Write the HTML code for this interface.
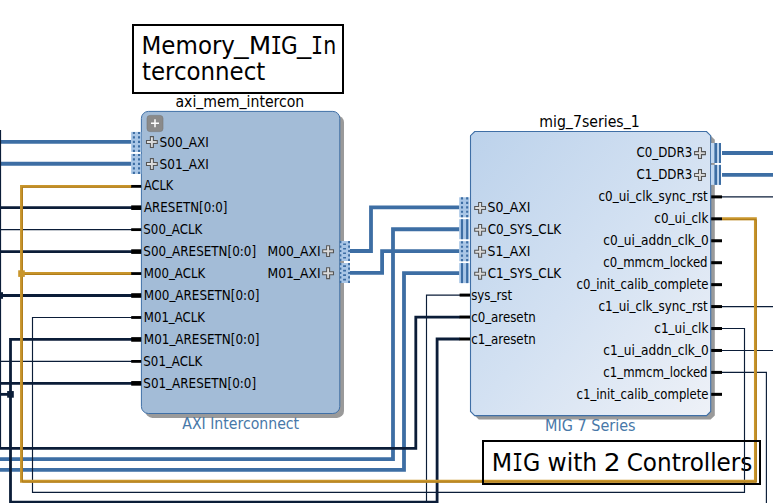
<!DOCTYPE html>
<html><head><meta charset="utf-8"><title>Block Design</title>
<style>
html,body{margin:0;padding:0;background:#fff;}
body{width:773px;height:503px;overflow:hidden;}
svg{display:block;}
.pin{font-family:"DejaVu Sans Condensed","DejaVu Sans","Liberation Sans",sans-serif;font-size:13.5px;fill:#000;}
.lbl{font-family:"DejaVu Sans Condensed","DejaVu Sans","Liberation Sans",sans-serif;font-size:15.2px;}
.ttl,.ttl2{font-family:"DejaVu Sans Condensed","DejaVu Sans","Liberation Sans",sans-serif;font-size:24.7px;fill:#000;}
.ttl2{font-size:25.5px;}
.mono{font-family:"DejaVu Sans Mono","Liberation Mono",monospace;}
</style></head><body>
<svg width="773" height="503" viewBox="0 0 773 503">
<defs>
<linearGradient id="mg" x1="0" y1="0" x2="1" y2="1">
<stop offset="0" stop-color="#bcd2eb"/><stop offset="0.5" stop-color="#d3e1f2"/><stop offset="1" stop-color="#eef1f7"/>
</linearGradient>
<linearGradient id="pg" x1="0" y1="0" x2="1" y2="1">
<stop offset="0" stop-color="#f2f2f2"/><stop offset="1" stop-color="#c4c4c4"/>
</linearGradient>
</defs>
<rect x="0" y="0" width="773" height="503" fill="#fff"/>

<rect x="133" y="25" width="210" height="68" fill="#fff" stroke="#000" stroke-width="2"/>
<text class="ttl"><tspan x="141.56" y="54.30" textLength="93.42" lengthAdjust="spacingAndGlyphs">Memory</tspan><tspan x="233.90" y="53.10" textLength="14.60" lengthAdjust="spacingAndGlyphs">_</tspan><tspan x="248.76" y="54.30" textLength="22.47" lengthAdjust="spacingAndGlyphs">M</tspan><tspan class="mono" x="270.43" y="54.30" textLength="11.45" lengthAdjust="spacingAndGlyphs">I</tspan><tspan x="281.10" y="54.30" textLength="16.65" lengthAdjust="spacingAndGlyphs">G</tspan><tspan x="297.00" y="53.10" textLength="14.20" lengthAdjust="spacingAndGlyphs">_</tspan><tspan class="mono" x="310.94" y="54.30" textLength="12.05" lengthAdjust="spacingAndGlyphs">I</tspan><tspan x="323.14" y="54.30" textLength="12.99" lengthAdjust="spacingAndGlyphs">n</tspan></text>
<text class="ttl" x="141.99" y="80.30" textLength="123.34" lengthAdjust="spacingAndGlyphs">terconnect</text>
<rect x="483" y="441" width="277" height="43" fill="#fff"/>
<text class="ttl2"><tspan x="491.69" y="470.60" textLength="20.41" lengthAdjust="spacingAndGlyphs">M</tspan><tspan class="mono" x="512.15" y="470.60" textLength="10.71" lengthAdjust="spacingAndGlyphs">I</tspan><tspan x="522.96" y="470.60" textLength="17.26" lengthAdjust="spacingAndGlyphs">G</tspan> <tspan x="547.52" y="470.60" textLength="49.66" lengthAdjust="spacingAndGlyphs">with</tspan> <tspan x="603.66" y="470.60" textLength="16.88" lengthAdjust="spacingAndGlyphs">2</tspan> <tspan x="626.71" y="470.60" textLength="125.70" lengthAdjust="spacingAndGlyphs">Controllers</tspan></text>
<path d="M0.00,141.80 L131.50,141.80" fill="none" stroke="#3d6ea4" stroke-width="3.8" stroke-linejoin="miter"/>
<path d="M0.00,163.76 L131.50,163.76" fill="none" stroke="#3d6ea4" stroke-width="3.8" stroke-linejoin="miter"/>
<path d="M350.00,251.00 L371.00,251.00 L371.00,207.30 L459.50,207.30" fill="none" stroke="#3d6ea4" stroke-width="3.8" stroke-linejoin="miter"/>
<path d="M350.00,272.96 L382.10,272.96 L382.10,251.20 L459.50,251.20" fill="none" stroke="#3d6ea4" stroke-width="3.8" stroke-linejoin="miter"/>
<path d="M459.50,229.25 L393.00,229.25 L393.00,459.05 L0.00,459.05" fill="none" stroke="#3d6ea4" stroke-width="3.8" stroke-linejoin="miter"/>
<path d="M459.50,273.15 L404.00,273.15 L404.00,469.80 L0.00,469.80" fill="none" stroke="#3d6ea4" stroke-width="3.8" stroke-linejoin="miter"/>
<path d="M722.00,153.00 L773.00,153.00" fill="none" stroke="#3d6ea4" stroke-width="3.8" stroke-linejoin="miter"/>
<path d="M722.00,174.94 L773.00,174.94" fill="none" stroke="#3d6ea4" stroke-width="3.8" stroke-linejoin="miter"/>
<path d="M0.00,207.68 L132.00,207.68" fill="none" stroke="#0b1d38" stroke-width="2.8" stroke-linejoin="miter"/>
<path d="M0.00,251.60 L132.00,251.60" fill="none" stroke="#0b1d38" stroke-width="2.8" stroke-linejoin="miter"/>
<path d="M0.00,295.52 L132.00,295.52" fill="none" stroke="#0b1d38" stroke-width="2.8" stroke-linejoin="miter"/>
<path d="M0.00,383.36 L132.00,383.36" fill="none" stroke="#0b1d38" stroke-width="2.8" stroke-linejoin="miter"/>
<path d="M132.00,339.44 L10.50,339.44 L10.50,502.20 L437.10,502.20 L437.10,339.00 L460.00,339.00" fill="none" stroke="#0b1d38" stroke-width="2.8" stroke-linejoin="miter"/>
<path d="M0.00,394.35 L10.50,394.35" fill="none" stroke="#0b1d38" stroke-width="2.8" stroke-linejoin="miter"/>
<rect x="7.15" y="391.05" width="6.65" height="6.65" fill="#0b1d38"/>
<rect x="-3.6" y="292.2" width="6.6" height="6.6" fill="#0b1d38"/>
<path d="M-0.30,130.00 L-0.30,448.45 L415.80,448.45 L415.80,317.05 L460.00,317.05" fill="none" stroke="#0b1d38" stroke-width="2.8" stroke-linejoin="miter"/>
<path d="M0.00,229.64 L132.00,229.64" fill="none" stroke="#0b1d38" stroke-width="1.15" stroke-linejoin="miter"/>
<path d="M0.00,361.40 L132.00,361.40" fill="none" stroke="#0b1d38" stroke-width="1.15" stroke-linejoin="miter"/>
<path d="M132.00,317.48 L32.50,317.48 L32.50,492.30 L744.50,492.30 L744.50,328.52 L722.00,328.52" fill="none" stroke="#0b1d38" stroke-width="1.15" stroke-linejoin="miter"/>
<path d="M460.00,295.10 L426.50,295.10 L426.50,503.00" fill="none" stroke="#0b1d38" stroke-width="1.15" stroke-linejoin="miter"/>
<path d="M722.00,196.88 L773.00,196.88" fill="none" stroke="#0b1d38" stroke-width="1.15" stroke-linejoin="miter"/>
<path d="M722.00,306.58 L773.00,306.58" fill="none" stroke="#0b1d38" stroke-width="1.15" stroke-linejoin="miter"/>
<path d="M722.00,350.46 L773.00,350.46" fill="none" stroke="#0b1d38" stroke-width="1.15" stroke-linejoin="miter"/>
<path d="M722.00,372.40 L766.40,372.40 L766.40,503.00" fill="none" stroke="#0b1d38" stroke-width="1.15" stroke-linejoin="miter"/>
<path d="M132.00,186.37 L21.50,186.37 L21.50,481.20 L755.40,481.20 L755.40,218.82 L722.00,218.82" fill="none" stroke="#c9962c" stroke-width="2.9" stroke-linejoin="miter"/>
<path d="M21.50,273.56 L132.00,273.56" fill="none" stroke="#c9962c" stroke-width="2.9" stroke-linejoin="miter"/>
<path d="M132.00,187.22 L22.35,187.22 L22.35,482.05 L756.25,482.05 L756.25,219.67 L722.00,219.67" fill="none" stroke="#ad7a1a" stroke-width="1.0" stroke-linejoin="miter"/>
<path d="M22.35,274.41 L132.00,274.41" fill="none" stroke="#ad7a1a" stroke-width="1.0" stroke-linejoin="miter"/>
<rect x="18.2" y="270.3" width="6.6" height="6.6" fill="#c9962c"/>
<rect x="483" y="441" width="277" height="43" fill="none" stroke="#000" stroke-width="2"/>
<rect x="145.4" y="115.4" width="198.6" height="302.5" rx="7" ry="7" fill="#9a9a9a"/>
<rect x="141.4" y="111.4" width="198.4" height="302.1" rx="7" ry="7" fill="#a3bcd7" stroke="#3f6fa6" stroke-width="1"/>
<rect x="147" y="115.4" width="16" height="16.2" rx="3" ry="3" fill="#8a8a8a" stroke="#777" stroke-width="0.6"/>
<path d="M155,119.3v8M151,123.3h8" stroke="#fff" stroke-width="1.5" fill="none"/>
<rect x="131.1" y="131.9" width="10.2" height="20" fill="#a9c6e6"/>
<path d="M133.90,131.9v20" stroke="#3d6ea4" stroke-width="2.1" stroke-dasharray="2.2 2.25" fill="none"/>
<path d="M139.05,131.9v20" stroke="#3d6ea4" stroke-width="2.1" stroke-dasharray="2.2 2.25" fill="none"/>
<rect x="131.1" y="153.9" width="10.2" height="20" fill="#a9c6e6"/>
<path d="M133.90,153.9v20" stroke="#3d6ea4" stroke-width="2.1" stroke-dasharray="2.2 2.25" fill="none"/>
<path d="M139.05,153.9v20" stroke="#3d6ea4" stroke-width="2.1" stroke-dasharray="2.2 2.25" fill="none"/>
<rect x="340.0" y="241.0" width="10" height="20" fill="#a9c6e6"/>
<path d="M340.60,241.0v20" stroke="#3d6ea4" stroke-width="1.6" stroke-dasharray="2.2 2.25" fill="none"/>
<path d="M349.05,241.0v20" stroke="#3d6ea4" stroke-width="1.9" stroke-dasharray="2.2 2.25" fill="none"/>
<path d="M344.55,243.40v18" stroke="#3d6ea4" stroke-width="2.9" stroke-dasharray="1.7 2.8" fill="none"/>
<rect x="340.0" y="263.0" width="10" height="20" fill="#a9c6e6"/>
<path d="M340.60,263.0v20" stroke="#3d6ea4" stroke-width="1.6" stroke-dasharray="2.2 2.25" fill="none"/>
<path d="M349.05,263.0v20" stroke="#3d6ea4" stroke-width="1.9" stroke-dasharray="2.2 2.25" fill="none"/>
<path d="M344.55,265.36v18" stroke="#3d6ea4" stroke-width="2.9" stroke-dasharray="1.7 2.8" fill="none"/>
<path transform="translate(151.9,142.0)" d="M-1.5,-5.4h3v3.9h3.9v3h-3.9v3.9h-3v-3.9h-3.9v-3h3.9z" fill="url(#pg)" stroke="#555" stroke-width="1.05" stroke-linejoin="miter"/>
<text class="pin" x="159.50" y="146.55" textLength="49.38" lengthAdjust="spacingAndGlyphs">S00<tspan dy="-0.9">_</tspan><tspan dy="0.9">AXI</tspan></text>
<path transform="translate(151.9,164.0)" d="M-1.5,-5.4h3v3.9h3.9v3h-3.9v3.9h-3v-3.9h-3.9v-3h3.9z" fill="url(#pg)" stroke="#555" stroke-width="1.05" stroke-linejoin="miter"/>
<text class="pin" x="159.50" y="168.51" textLength="49.38" lengthAdjust="spacingAndGlyphs">S01<tspan dy="-0.9">_</tspan><tspan dy="0.9">AXI</tspan></text>
<rect x="131.2" y="184.97" width="10" height="2.8" fill="#000"/>
<text class="pin" x="144.01" y="190.47" textLength="29.14" lengthAdjust="spacingAndGlyphs">ACLK</text>
<rect x="131.2" y="205.38" width="10" height="4.6" fill="#000"/>
<text class="pin" x="144.01" y="212.43" textLength="83.41" lengthAdjust="spacingAndGlyphs">ARESETN[0:0]</text>
<rect x="131.2" y="228.24" width="10" height="2.8" fill="#000"/>
<text class="pin" x="143.33" y="234.39" textLength="59.02" lengthAdjust="spacingAndGlyphs">S00<tspan dy="-0.9">_</tspan><tspan dy="0.9">ACLK</tspan></text>
<rect x="131.2" y="249.30" width="10" height="4.6" fill="#000"/>
<text class="pin" x="143.31" y="256.35" textLength="112.81" lengthAdjust="spacingAndGlyphs">S00<tspan dy="-0.9">_</tspan><tspan dy="0.9">ARESETN[0:0]</tspan></text>
<rect x="131.2" y="272.16" width="10" height="2.8" fill="#000"/>
<text class="pin" x="143.86" y="278.31" textLength="61.29" lengthAdjust="spacingAndGlyphs">M00<tspan dy="-0.9">_</tspan><tspan dy="0.9">ACLK</tspan></text>
<rect x="131.2" y="293.22" width="10" height="4.6" fill="#000"/>
<text class="pin" x="143.83" y="300.27" textLength="115.60" lengthAdjust="spacingAndGlyphs">M00<tspan dy="-0.9">_</tspan><tspan dy="0.9">ARESETN[0:0]</tspan></text>
<rect x="131.2" y="316.08" width="10" height="2.8" fill="#000"/>
<text class="pin" x="143.86" y="322.23" textLength="60.99" lengthAdjust="spacingAndGlyphs">M01<tspan dy="-0.9">_</tspan><tspan dy="0.9">ACLK</tspan></text>
<rect x="131.2" y="337.14" width="10" height="4.6" fill="#000"/>
<text class="pin" x="143.83" y="344.19" textLength="115.60" lengthAdjust="spacingAndGlyphs">M01<tspan dy="-0.9">_</tspan><tspan dy="0.9">ARESETN[0:0]</tspan></text>
<rect x="131.2" y="360.00" width="10" height="2.8" fill="#000"/>
<text class="pin" x="143.33" y="366.15" textLength="59.02" lengthAdjust="spacingAndGlyphs">S01<tspan dy="-0.9">_</tspan><tspan dy="0.9">ACLK</tspan></text>
<rect x="131.2" y="381.06" width="10" height="4.6" fill="#000"/>
<text class="pin" x="143.31" y="388.11" textLength="112.81" lengthAdjust="spacingAndGlyphs">S01<tspan dy="-0.9">_</tspan><tspan dy="0.9">ARESETN[0:0]</tspan></text>
<text class="pin" x="267.49" y="255.75" textLength="53.11" lengthAdjust="spacingAndGlyphs">M00<tspan dy="-0.9">_</tspan><tspan dy="0.9">AXI</tspan></text>
<path transform="translate(328.1,251.2)" d="M-1.5,-5.4h3v3.9h3.9v3h-3.9v3.9h-3v-3.9h-3.9v-3h3.9z" fill="url(#pg)" stroke="#555" stroke-width="1.05" stroke-linejoin="miter"/>
<text class="pin" x="267.49" y="277.71" textLength="53.11" lengthAdjust="spacingAndGlyphs">M01<tspan dy="-0.9">_</tspan><tspan dy="0.9">AXI</tspan></text>
<path transform="translate(328.1,273.2)" d="M-1.5,-5.4h3v3.9h3.9v3h-3.9v3.9h-3v-3.9h-3.9v-3h3.9z" fill="url(#pg)" stroke="#555" stroke-width="1.05" stroke-linejoin="miter"/>
<text class="lbl" x="175.46" y="107.00" textLength="128.83" lengthAdjust="spacingAndGlyphs" fill="#000">axi<tspan dy="-2.4">_</tspan><tspan dy="2.4">mem</tspan><tspan dy="-2.4">_</tspan><tspan dy="2.4">intercon</tspan></text>
<text class="lbl" x="182.29" y="429.20" textLength="116.83" lengthAdjust="spacingAndGlyphs" fill="#4878a8">AXI Interconnect</text>
<path d="M478.8,135.5 h231.8 l4.2,4.2 v275.7 l-4.2,4.2 h-231.8 l-4.2,-4.2 v-275.7 z" fill="#9a9a9a"/>
<path d="M474.7,131.5 h231.8 l4.2,4.2 v275.7 l-4.2,4.2 h-231.8 l-4.2,-4.2 v-275.7 z" fill="url(#mg)" stroke="#3f6fa6" stroke-width="1.1"/>
<rect x="459.2" y="197.3" width="10.2" height="20" fill="#a9c6e6"/>
<path d="M462.00,197.3v20" stroke="#3d6ea4" stroke-width="2.1" stroke-dasharray="2.2 2.25" fill="none"/>
<path d="M467.15,197.3v20" stroke="#3d6ea4" stroke-width="2.1" stroke-dasharray="2.2 2.25" fill="none"/>
<rect x="459.2" y="219.2" width="10.2" height="20" fill="#a9c6e6"/>
<path d="M462.00,219.2v20" stroke="#3d6ea4" stroke-width="2.1" fill="none"/>
<path d="M467.15,219.2v20" stroke="#3d6ea4" stroke-width="2.1" fill="none"/>
<rect x="459.2" y="241.2" width="10.2" height="20" fill="#a9c6e6"/>
<path d="M462.00,241.2v20" stroke="#3d6ea4" stroke-width="2.1" stroke-dasharray="2.2 2.25" fill="none"/>
<path d="M467.15,241.2v20" stroke="#3d6ea4" stroke-width="2.1" stroke-dasharray="2.2 2.25" fill="none"/>
<rect x="459.2" y="263.1" width="10.2" height="20" fill="#a9c6e6"/>
<path d="M462.00,263.1v20" stroke="#3d6ea4" stroke-width="2.1" fill="none"/>
<path d="M467.15,263.1v20" stroke="#3d6ea4" stroke-width="2.1" fill="none"/>
<path transform="translate(480.1,207.9)" d="M-1.5,-5.4h3v3.9h3.9v3h-3.9v3.9h-3v-3.9h-3.9v-3h3.9z" fill="url(#pg)" stroke="#555" stroke-width="1.05" stroke-linejoin="miter"/>
<text class="pin" x="487.53" y="212.05" textLength="42.89" lengthAdjust="spacingAndGlyphs">S0<tspan dy="-0.9">_</tspan><tspan dy="0.9">AXI</tspan></text>
<path transform="translate(480.1,229.8)" d="M-1.5,-5.4h3v3.9h3.9v3h-3.9v3.9h-3v-3.9h-3.9v-3h3.9z" fill="url(#pg)" stroke="#555" stroke-width="1.05" stroke-linejoin="miter"/>
<text class="pin" x="487.68" y="234.00" textLength="73.56" lengthAdjust="spacingAndGlyphs">C0<tspan dy="-0.9">_</tspan><tspan dy="0.9">SYS</tspan><tspan dy="-0.9">_</tspan><tspan dy="0.9">CLK</tspan></text>
<path transform="translate(480.1,251.8)" d="M-1.5,-5.4h3v3.9h3.9v3h-3.9v3.9h-3v-3.9h-3.9v-3h3.9z" fill="url(#pg)" stroke="#555" stroke-width="1.05" stroke-linejoin="miter"/>
<text class="pin" x="487.53" y="255.95" textLength="42.89" lengthAdjust="spacingAndGlyphs">S1<tspan dy="-0.9">_</tspan><tspan dy="0.9">AXI</tspan></text>
<path transform="translate(480.1,273.8)" d="M-1.5,-5.4h3v3.9h3.9v3h-3.9v3.9h-3v-3.9h-3.9v-3h3.9z" fill="url(#pg)" stroke="#555" stroke-width="1.05" stroke-linejoin="miter"/>
<text class="pin" x="487.68" y="277.90" textLength="73.56" lengthAdjust="spacingAndGlyphs">C1<tspan dy="-0.9">_</tspan><tspan dy="0.9">SYS</tspan><tspan dy="-0.9">_</tspan><tspan dy="0.9">CLK</tspan></text>
<rect x="459.6" y="293.60" width="10.4" height="3" fill="#000"/>
<text class="pin" x="471.16" y="299.85" textLength="40.91" lengthAdjust="spacingAndGlyphs">sys<tspan dy="-0.9">_</tspan><tspan dy="0.9">rst</tspan></text>
<rect x="459.6" y="315.55" width="10.4" height="3" fill="#000"/>
<text class="pin" x="471.15" y="321.80" textLength="64.64" lengthAdjust="spacingAndGlyphs">c0<tspan dy="-0.9">_</tspan><tspan dy="0.9">aresetn</tspan></text>
<rect x="459.6" y="337.50" width="10.4" height="3" fill="#000"/>
<text class="pin" x="471.15" y="343.75" textLength="64.64" lengthAdjust="spacingAndGlyphs">c1<tspan dy="-0.9">_</tspan><tspan dy="0.9">aresetn</tspan></text>
<rect x="711" y="143.0" width="10" height="20" fill="#c2d8f0"/>
<rect x="714.4" y="143.0" width="2.7" height="20" fill="#3d6ea4"/>
<rect x="719" y="143.0" width="2" height="20" fill="#3d6ea4"/>
<path transform="translate(700.0,153.1)" d="M-1.5,-5.4h3v3.9h3.9v3h-3.9v3.9h-3v-3.9h-3.9v-3h3.9z" fill="url(#pg)" stroke="#555" stroke-width="1.05" stroke-linejoin="miter"/>
<text class="pin" x="636.54" y="157.45" textLength="55.70" lengthAdjust="spacingAndGlyphs">C0<tspan dy="-0.9">_</tspan><tspan dy="0.9">DDR3</tspan></text>
<rect x="711" y="164.9" width="10" height="20" fill="#c2d8f0"/>
<rect x="714.4" y="164.9" width="2.7" height="20" fill="#3d6ea4"/>
<rect x="719" y="164.9" width="2" height="20" fill="#3d6ea4"/>
<path transform="translate(700.0,175.0)" d="M-1.5,-5.4h3v3.9h3.9v3h-3.9v3.9h-3v-3.9h-3.9v-3h3.9z" fill="url(#pg)" stroke="#555" stroke-width="1.05" stroke-linejoin="miter"/>
<text class="pin" x="636.54" y="179.39" textLength="55.70" lengthAdjust="spacingAndGlyphs">C1<tspan dy="-0.9">_</tspan><tspan dy="0.9">DDR3</tspan></text>
<rect x="711.2" y="195.38" width="10.8" height="3" fill="#000"/>
<text class="pin" x="598.44" y="201.33" textLength="109.34" lengthAdjust="spacingAndGlyphs">c0<tspan dy="-0.9">_</tspan><tspan dy="0.9">ui</tspan><tspan dy="-0.9">_</tspan><tspan dy="0.9">clk</tspan><tspan dy="-0.9">_</tspan><tspan dy="0.9">sync</tspan><tspan dy="-0.9">_</tspan><tspan dy="0.9">rst</tspan></text>
<rect x="711.2" y="217.32" width="10.8" height="3" fill="#000"/>
<text class="pin" x="654.34" y="223.27" textLength="53.99" lengthAdjust="spacingAndGlyphs">c0<tspan dy="-0.9">_</tspan><tspan dy="0.9">ui</tspan><tspan dy="-0.9">_</tspan><tspan dy="0.9">clk</tspan></text>
<rect x="711.2" y="239.26" width="10.8" height="3" fill="#000"/>
<text class="pin" x="603.33" y="245.21" textLength="105.37" lengthAdjust="spacingAndGlyphs">c0<tspan dy="-0.9">_</tspan><tspan dy="0.9">ui</tspan><tspan dy="-0.9">_</tspan><tspan dy="0.9">addn</tspan><tspan dy="-0.9">_</tspan><tspan dy="0.9">clk</tspan><tspan dy="-0.9">_</tspan><tspan dy="0.9">0</tspan></text>
<rect x="711.2" y="261.20" width="10.8" height="3" fill="#000"/>
<text class="pin" x="603.36" y="267.15" textLength="104.20" lengthAdjust="spacingAndGlyphs">c0<tspan dy="-0.9">_</tspan><tspan dy="0.9">mmcm</tspan><tspan dy="-0.9">_</tspan><tspan dy="0.9">locked</tspan></text>
<rect x="711.2" y="283.14" width="10.8" height="3" fill="#000"/>
<text class="pin" x="576.56" y="289.09" textLength="131.96" lengthAdjust="spacingAndGlyphs">c0<tspan dy="-0.9">_</tspan><tspan dy="0.9">init</tspan><tspan dy="-0.9">_</tspan><tspan dy="0.9">calib</tspan><tspan dy="-0.9">_</tspan><tspan dy="0.9">complete</tspan></text>
<rect x="711.2" y="305.08" width="10.8" height="3" fill="#000"/>
<text class="pin" x="598.44" y="311.03" textLength="109.34" lengthAdjust="spacingAndGlyphs">c1<tspan dy="-0.9">_</tspan><tspan dy="0.9">ui</tspan><tspan dy="-0.9">_</tspan><tspan dy="0.9">clk</tspan><tspan dy="-0.9">_</tspan><tspan dy="0.9">sync</tspan><tspan dy="-0.9">_</tspan><tspan dy="0.9">rst</tspan></text>
<rect x="711.2" y="327.02" width="10.8" height="3" fill="#000"/>
<text class="pin" x="654.34" y="332.97" textLength="53.99" lengthAdjust="spacingAndGlyphs">c1<tspan dy="-0.9">_</tspan><tspan dy="0.9">ui</tspan><tspan dy="-0.9">_</tspan><tspan dy="0.9">clk</tspan></text>
<rect x="711.2" y="348.96" width="10.8" height="3" fill="#000"/>
<text class="pin" x="603.33" y="354.91" textLength="105.37" lengthAdjust="spacingAndGlyphs">c1<tspan dy="-0.9">_</tspan><tspan dy="0.9">ui</tspan><tspan dy="-0.9">_</tspan><tspan dy="0.9">addn</tspan><tspan dy="-0.9">_</tspan><tspan dy="0.9">clk</tspan><tspan dy="-0.9">_</tspan><tspan dy="0.9">0</tspan></text>
<rect x="711.2" y="370.90" width="10.8" height="3" fill="#000"/>
<text class="pin" x="603.36" y="376.85" textLength="104.20" lengthAdjust="spacingAndGlyphs">c1<tspan dy="-0.9">_</tspan><tspan dy="0.9">mmcm</tspan><tspan dy="-0.9">_</tspan><tspan dy="0.9">locked</tspan></text>
<rect x="711.2" y="392.84" width="10.8" height="3" fill="#000"/>
<text class="pin" x="576.56" y="398.79" textLength="131.96" lengthAdjust="spacingAndGlyphs">c1<tspan dy="-0.9">_</tspan><tspan dy="0.9">init</tspan><tspan dy="-0.9">_</tspan><tspan dy="0.9">calib</tspan><tspan dy="-0.9">_</tspan><tspan dy="0.9">complete</tspan></text>
<text class="lbl" x="539.22" y="127.10" textLength="100.58" lengthAdjust="spacingAndGlyphs" fill="#000">mig<tspan dy="-2.4">_</tspan><tspan dy="2.4">7series</tspan><tspan dy="-2.4">_</tspan><tspan dy="2.4">1</tspan></text>
<text class="lbl" x="545.09" y="431.00" textLength="90.50" lengthAdjust="spacingAndGlyphs" fill="#4878a8">MIG 7 Series</text>
</svg></body></html>
